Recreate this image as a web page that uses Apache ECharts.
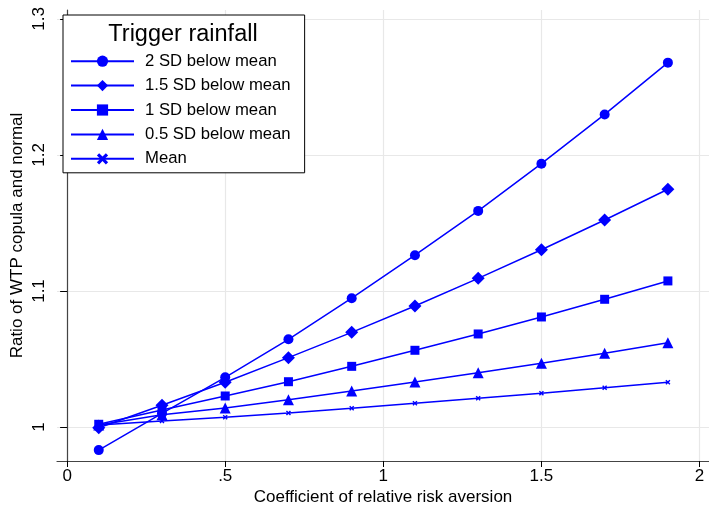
<!DOCTYPE html>
<html><head><meta charset="utf-8">
<script src="https://cdn.jsdelivr.net/npm/echarts@6/dist/echarts.min.js"></script>
<style>html,body{margin:0;padding:0;background:#fff}#c{width:709px;height:508px}</style>
</head><body><div id="c"></div>
<script>
const xValues = [0.1, 0.3, 0.5, 0.7, 0.9, 1.1, 1.3, 1.5, 1.7, 1.9];
const sd2 = [0.983, 1.010, 1.0365, 1.0645, 1.0947, 1.1263, 1.1589, 1.1936, 1.2298, 1.2679];
const sd15 = [0.9995, 1.016, 1.0329, 1.051, 1.0696, 1.089, 1.1093, 1.1303, 1.1522, 1.1748];
const sd1 = [1.002, 1.0125, 1.0228, 1.0333, 1.0446, 1.0564, 1.0684, 1.0809, 1.0939, 1.1074];
const sd05 = [1.0015, 1.009, 1.014, 1.0201, 1.0265, 1.0331, 1.0399, 1.0468, 1.0542, 1.062];
const meanS = [1.0015, 1.0044, 1.0071, 1.0103, 1.0137, 1.0174, 1.0211, 1.0248, 1.0289, 1.0329];
const seriesNames = ['2 SD below mean', '1.5 SD below mean', '1 SD below mean', '0.5 SD below mean', 'Mean'];
const xTicks = [0, 0.5, 1, 1.5, 2];
const xTickLabels = ['0', '.5', '1', '1.5', '2'];
const yTicks = [1, 1.1, 1.2, 1.3];

const blue = '#0000ff';
const xSym = 'path://M2,0 L5,3 L8,0 L10,2 L7,5 L10,8 L8,10 L5,7 L2,10 L0,8 L3,5 L0,2 Z';
const symbols = ['circle', 'diamond', 'rect', 'triangle', xSym];
const sizes = [10, 13, 9, 11, 5];
const data = [sd2, sd15, sd1, sd05, meanS];
const font = 'Liberation Sans, Arial, sans-serif';

const chart = echarts.init(document.getElementById('c'), null, {renderer: 'canvas'});
chart.setOption({
  animation: false,
  backgroundColor: '#fff',
  title: {
    text: 'Trigger rainfall', left: 178, top: 18, textAlign: 'center',
    textStyle: {fontFamily: font, fontSize: 23.5, fontWeight: 'normal', color: '#000'}
  },
  legend: {
    orient: 'vertical', left: 63, top: 15,
    padding: [37.7, 14, 5.5, 7],
    borderColor: '#000', borderWidth: 1, backgroundColor: '#fff',
    itemWidth: 63, itemHeight: 14, itemGap: 7.4,
    data: seriesNames,
    textStyle: {fontFamily: font, fontSize: 16.7, lineHeight: 16, color: '#000', padding: [0, 0, 0, 6]}
  },
  grid: {left: 57, right: 0, top: 10, bottom: 47, containLabel: false, outerBoundsMode: 'none'},
  xAxis: {
    type: 'value', min: -0.032, max: 2.03,
    name: 'Coefficient of relative risk aversion', nameLocation: 'middle', nameGap: 28,
    nameMoveOverlap: false,
    nameTextStyle: {fontFamily: font, fontSize: 17, color: '#000'},
    axisLine: {show: true, lineStyle: {color: '#444', width: 1.2}},
    axisTick: {show: true, customValues: xTicks, length: 6, lineStyle: {color: '#000'}},
    axisLabel: {customValues: xTicks, fontFamily: font, fontSize: 17, color: '#000', margin: 7,
      formatter: v => xTickLabels[xTicks.indexOf(v)] !== undefined ? xTickLabels[xTicks.indexOf(v)] : ''},
    splitLine: {show: true, lineStyle: {color: '#e8e8e8', width: 1.2}}
  },
  yAxis: {
    type: 'value', min: 0.975, max: 1.3066,
    name: 'Ratio of WTP copula and normal', nameLocation: 'middle', nameGap: 31.5,
    nameMoveOverlap: false,
    nameTextStyle: {fontFamily: font, fontSize: 17, color: '#000'},
    axisLine: {show: true, lineStyle: {color: '#444', width: 1.2}},
    axisTick: {show: true, customValues: yTicks, length: 7, lineStyle: {color: '#000'}},
    axisLabel: {customValues: yTicks, fontFamily: font, fontSize: 17, color: '#000', margin: 9.5, rotate: 90,
      formatter: v => String(Math.round(v * 10) / 10)},
    splitLine: {show: true, lineStyle: {color: '#e8e8e8', width: 1.2}}
  },
  series: data.map((d, i) => ({
    name: seriesNames[i], type: 'line',
    data: d.map((v, j) => [xValues[j], v]),
    symbol: symbols[i], symbolSize: sizes[i],
    lineStyle: {color: blue, width: 1.5},
    itemStyle: {color: blue},
    showAllSymbol: true
  }))
});
</script></body></html>
